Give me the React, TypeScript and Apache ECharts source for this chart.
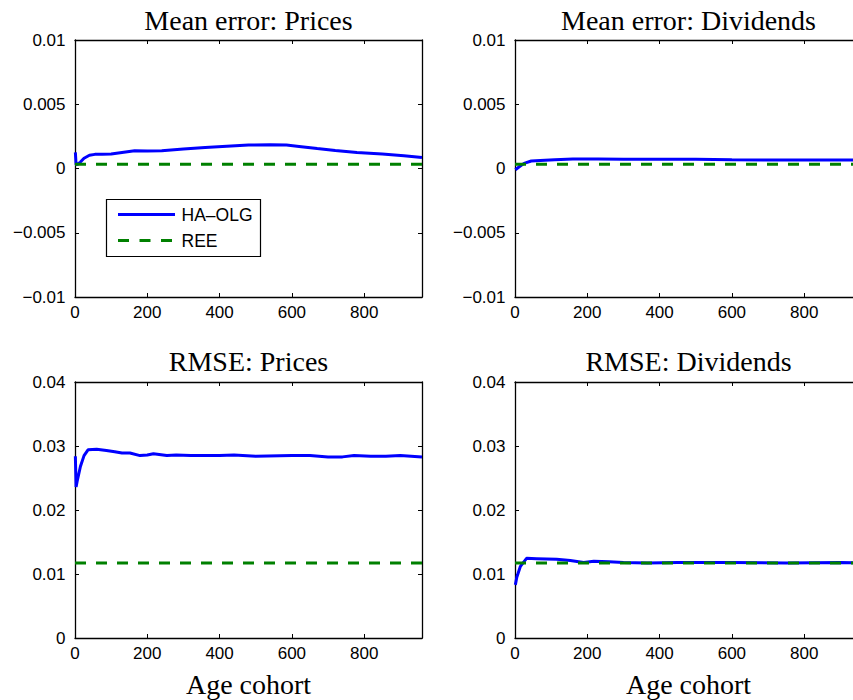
import React, { useEffect, useRef } from "react";
import * as echarts from "echarts";

// ---- Data ----
const panelTitles = ["Mean error: Prices", "Mean error: Dividends", "RMSE: Prices", "RMSE: Dividends"];
const seriesNames = ["HA\u2013OLG", "REE"];
const xAxisName = "Age cohort";
const xTicks = [0, 200, 400, 600, 800];
const xMax = 960;

// Mean error: Prices (HA-OLG)
const mePricesAge = [1, 3, 8, 15, 25, 40, 55, 75, 100, 130, 165, 200, 240, 300, 360, 420, 480, 540, 585, 620, 670, 720, 780, 850, 910, 960];
const mePricesVal = [0.00125, 0.0003, 0.00035, 0.0005, 0.0008, 0.00103, 0.0011, 0.0011, 0.00113, 0.00125, 0.00138, 0.00136, 0.00138, 0.00152, 0.00163, 0.00174, 0.00182, 0.00184, 0.00183, 0.00172, 0.00155, 0.0014, 0.00125, 0.00112, 0.001, 0.00085];

// Mean error: Dividends (HA-OLG)
const meDivAge = [1, 10, 25, 45, 70, 110, 160, 230, 300, 400, 500, 600, 700, 800, 960];
const meDivVal = [-0.0001, 0.0001, 0.0004, 0.00058, 0.00062, 0.00068, 0.00073, 0.00074, 0.00072, 0.00072, 0.00072, 0.00068, 0.00066, 0.00066, 0.00066];

// RMSE: Prices (HA-OLG)
const rmsePricesAge = [1, 3, 6, 15, 25, 36, 60, 87, 110, 130, 152, 180, 200, 217, 254, 280, 320, 400, 440, 500, 600, 650, 700, 740, 772, 818, 860, 900, 960];
const rmsePricesVal = [0.0284, 0.0236, 0.0245, 0.0268, 0.0285, 0.0294, 0.0295, 0.0293, 0.0291, 0.0289, 0.0289, 0.0285, 0.0286, 0.0288, 0.0285, 0.0286, 0.0285, 0.0285, 0.0286, 0.0284, 0.0285, 0.0285, 0.0283, 0.0283, 0.0285, 0.0284, 0.0284, 0.0285, 0.0283];

// RMSE: Dividends (HA-OLG)
const rmseDivAge = [1, 5, 15, 32, 60, 115, 153, 190, 218, 260, 300, 367, 450, 600, 750, 900, 960];
const rmseDivVal = [0.0083, 0.0095, 0.0112, 0.01245, 0.0124, 0.0123, 0.0121, 0.0118, 0.012, 0.0119, 0.0118, 0.0117, 0.0118, 0.0118, 0.0117, 0.0118, 0.0117];

// REE benchmark (constant)
const reeAge = [0, 960];
const reeMeanError = 0.00033;
const reeRmse = 0.0117;

// y-axis ranges [min, max, interval]
const meYRange = [-0.01, 0.01, 0.005];
const rmseYRange = [0, 0.04, 0.01];

const zip = (xs: number[], ys: number[]) => xs.map((x, i) => [x, ys[i]]);

export default function App() {
  const ref = useRef<HTMLDivElement>(null);

  useEffect(() => {
    if (!ref.current) return;
    const chart = echarts.init(ref.current, null, { renderer: "svg" });

    const grids = [
      { left: 75, top: 40, width: 347, height: 257 },
      { left: 515, top: 40, width: 347, height: 257 },
      { left: 75, top: 382, width: 347, height: 256 },
      { left: 515, top: 382, width: 347, height: 256 },
    ];
    const yRanges = [meYRange, meYRange, rmseYRange, rmseYRange];
    const blue = [
      zip(mePricesAge, mePricesVal),
      zip(meDivAge, meDivVal),
      zip(rmsePricesAge, rmsePricesVal),
      zip(rmseDivAge, rmseDivVal),
    ];
    const reeVals = [reeMeanError, reeMeanError, reeRmse, reeRmse];

    const axisLine = { show: true, onZero: false, lineStyle: { color: "#000", width: 1.3 } };
    const axisTick = { show: true, inside: true, length: 4, lineStyle: { color: "#000", width: 1 } };
    const labelFont = { fontFamily: "Liberation Sans", fontSize: 17, color: "#000" };

    const fmtY = (v: number) => {
      const r = Math.round(v * 1e6) / 1e6;
      if (r === 0) return "0";
      return (r < 0 ? "\u2212" : "") + String(Math.abs(r));
    };

    const xAxis: any[] = [];
    const yAxis: any[] = [];
    const series: any[] = [];
    grids.forEach((g, i) => {
      const base = { type: "value", gridIndex: i, min: 0, max: xMax, interval: xTicks[1] - xTicks[0], splitLine: { show: false }, axisLine, axisTick };
      xAxis.push({ ...base, position: "bottom", axisLabel: { ...labelFont, margin: 7, showMaxLabel: false } });
      xAxis.push({ ...base, position: "top", axisLabel: { show: false } });
      const [ymin, ymax, yint] = yRanges[i];
      const ybase = { type: "value", gridIndex: i, min: ymin, max: ymax, interval: yint, splitLine: { show: false }, axisLine, axisTick };
      yAxis.push({ ...ybase, position: "left", axisLabel: { ...labelFont, margin: 9.5, formatter: fmtY } });
      yAxis.push({ ...ybase, position: "right", axisLabel: { show: false } });

      series.push({
        name: seriesNames[0],
        type: "line",
        xAxisIndex: 2 * i,
        yAxisIndex: 2 * i,
        data: blue[i],
        symbol: "none",
        lineStyle: { color: "#0000ff", width: 3 },
        z: 2,
      });
      series.push({
        name: seriesNames[1],
        type: "line",
        xAxisIndex: 2 * i,
        yAxisIndex: 2 * i,
        data: reeAge.map((a) => [a, reeVals[i]]),
        symbol: "none",
        lineStyle: { color: "#008000", width: 3, type: [11, 10] },
        z: 3,
      });
    });

    const titleFont = '28px "Liberation Serif"';
    const graphic: any[] = [];
    grids.forEach((g, i) => {
      const cx = g.left + g.width / 2;
      graphic.push({
        type: "text",
        x: cx,
        y: i < 2 ? 20 : 361.5,
        style: { text: panelTitles[i], font: titleFont, fill: "#000", align: "center", verticalAlign: "middle" },
      });
      if (i >= 2) {
        graphic.push({
          type: "text",
          x: cx,
          y: 684,
          style: { text: xAxisName, font: titleFont, fill: "#000", align: "center", verticalAlign: "middle" },
        });
      }
    });

    // Legend (inside top-left panel)
    graphic.push({
      type: "group",
      z: 100,
      children: [
        { type: "rect", shape: { x: 106.5, y: 199.5, width: 154, height: 57 }, style: { fill: "#fff", stroke: "#000", lineWidth: 1.2 } },
        { type: "line", shape: { x1: 118, y1: 214.5, x2: 175, y2: 214.5 }, style: { stroke: "#0000ff", lineWidth: 3 } },
        { type: "line", shape: { x1: 118, y1: 240.5, x2: 175, y2: 240.5 }, style: { stroke: "#008000", lineWidth: 3, lineDash: [11, 10.5] } },
        { type: "text", x: 181.5, y: 215, style: { text: seriesNames[0], font: '17.5px "Liberation Sans"', fill: "#000", align: "left", verticalAlign: "middle" } },
        { type: "text", x: 181.5, y: 240.5, style: { text: seriesNames[1], font: '17.5px "Liberation Sans"', fill: "#000", align: "left", verticalAlign: "middle" } },
      ],
    });

    chart.setOption({
      animation: false,
      backgroundColor: "#fff",
      grid: grids,
      xAxis,
      yAxis,
      series,
      graphic,
    });

    return () => chart.dispose();
  }, []);

  return (
    <div style={{ position: "absolute", left: 0, top: 0, width: 853, height: 700, overflow: "hidden", background: "#fff" }}>
      <div ref={ref} style={{ width: 870, height: 700 }} />
    </div>
  );
}
